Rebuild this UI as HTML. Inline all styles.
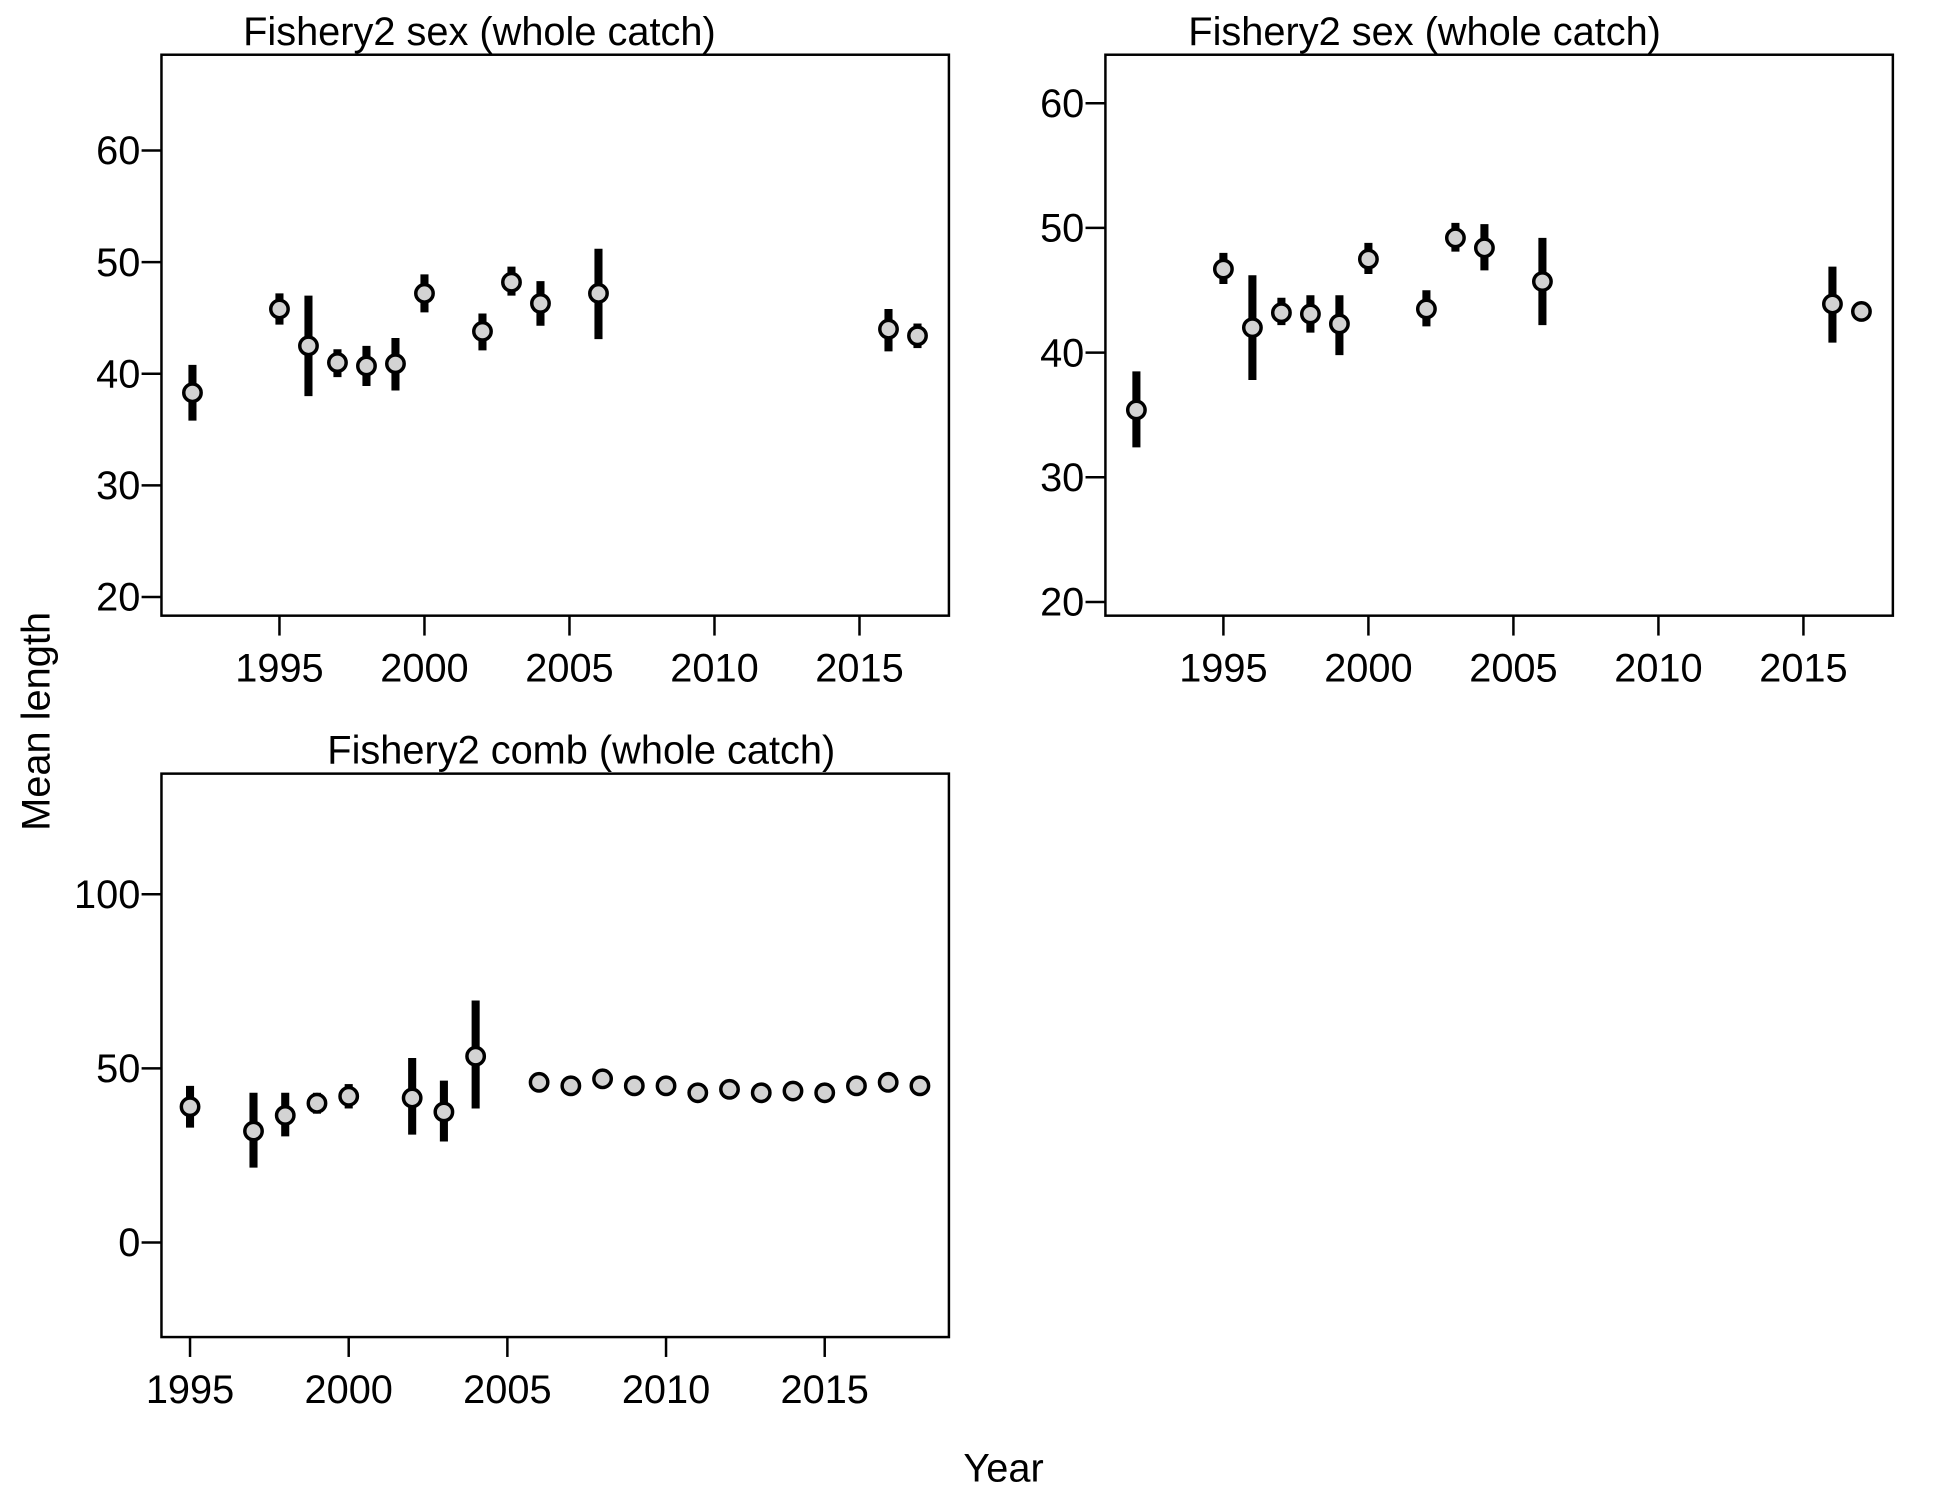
<!DOCTYPE html>
<html><head><meta charset="utf-8"><style>html,body{margin:0;padding:0;background:#fff}svg{display:block}text{font-family:"Liberation Sans",Arial,sans-serif;fill:#000}</style></head>
<body>
<svg id="fig" width="1950" height="1500" viewBox="0 0 1570 1206" preserveAspectRatio="none" xmlns="http://www.w3.org/2000/svg">
<text x="40" y="580" font-size="32" text-anchor="middle" transform="rotate(-90 40 580)">Mean length</text>
<text x="808" y="1191" font-size="32" text-anchor="middle">Year</text>
</svg>
<script>
// Panel 1
const p1Years=[1992,1995,1996,1997,1998,1999,2000,2002,2003,2004,2006,2016,2017];
const p1Mean=[38.3,45.8,42.5,41,40.7,40.9,47.2,43.8,48.2,46.3,47.2,44,43.4];
const p1Lo=[35.8,44.4,38,39.7,38.9,38.5,45.5,42.1,47,44.3,43.1,42,42.3];
const p1Hi=[40.8,47.2,47,42.2,42.5,43.2,48.9,45.4,49.6,48.3,51.2,45.8,44.5];
const p1YTicks=[20,30,40,50,60];
const p1XTicks=[1995,2000,2005,2010,2015];
// Panel 2
const p2Years=[1992,1995,1996,1997,1998,1999,2000,2002,2003,2004,2006,2016,2017];
const p2Mean=[35.4,46.7,42,43.2,43.1,42.3,47.5,43.5,49.2,48.4,45.7,43.9,43.3];
const p2Lo=[32.4,45.5,37.8,42.2,41.6,39.8,46.3,42.1,48.1,46.6,42.2,40.8,42.6];
const p2Hi=[38.5,48,46.2,44.4,44.6,44.6,48.8,45,50.4,50.3,49.2,46.9,44];
const p2YTicks=[20,30,40,50,60];
const p2XTicks=[1995,2000,2005,2010,2015];
// Panel 3
const p3Years=[1995,1997,1998,1999,2000,2002,2003,2004,2006,2007,2008,2009,2010,2011,2012,2013,2014,2015,2016,2017,2018];
const p3Mean=[39,32,36.5,40,42,41.5,37.5,53.5,46,45,47,45,45,43,44,43,43.5,43,45,46,45];
const p3Lo=[33,21.5,30.5,37,38.5,31,29,38.5,45,44,46,44,44,42,43,42,42.5,42,44,45,44];
const p3Hi=[45,43,43,43,45.5,53,46.5,69.5,47,46,48,46,46,44,45,44,44.5,44,46,47,46];
const p3YTicks=[0,50,100];
const p3XTicks=[1995,2000,2005,2010,2015];

const NS="http://www.w3.org/2000/svg";
const svg=document.getElementById('fig');
function mk(tag,attrs){const e=document.createElementNS(NS,tag);for(const k in attrs)e.setAttribute(k,attrs[k]);svg.appendChild(e);return e;}

function panel(id,box,xr,yr,years,mean,lo,hi,yt,xt,title,titleX){
  const [L,T,R,B]=box;
  const sx=v=>L+(v-xr[0])/(xr[1]-xr[0])*(R-L);
  const sy=v=>B-(v-yr[0])/(yr[1]-yr[0])*(B-T);
  const t=mk('text',{x:titleX,y:T-8,'font-size':32,'text-anchor':'middle'});t.textContent=title;
  
  
  const r=mk('rect',{x:L,y:T,width:R-L,height:B-T,fill:'none',stroke:'#000','stroke-width':2});
  
  
  yt.forEach(v=>{
    const l=mk('line',{x1:L-16,x2:L,y1:sy(v),y2:sy(v),stroke:'#000','stroke-width':2});
    
    
    const tx=mk('text',{x:L-17,y:sy(v)+11,'font-size':32,'text-anchor':'end'});tx.textContent=v;
    
    
  });
  xt.forEach(v=>{
    const l=mk('line',{x1:sx(v),x2:sx(v),y1:B,y2:B+16,stroke:'#000','stroke-width':2});
    
    
    const tx=mk('text',{x:sx(v),y:B+53,'font-size':32,'text-anchor':'middle'});tx.textContent=v;
    
    
  });
  years.forEach((y,i)=>{
    const b=mk('line',{x1:sx(y),x2:sx(y),y1:sy(lo[i]),y2:sy(hi[i]),stroke:'#000','stroke-width':6.5});
    
    
    const c=mk('circle',{cx:sx(y),cy:sy(mean[i]),r:7,fill:'#d3d3d3',stroke:'#000','stroke-width':2.8});
    
    
  });
}
panel('panel1',[130,44,764,495],[1995-95/23.35,1995+539/23.35],[20-15/8.975,60+77/8.975],p1Years,p1Mean,p1Lo,p1Hi,p1YTicks,p1XTicks,'Fishery2 sex (whole catch)',386);
panel('panel2',[890,44,1524,495],[1995-95/23.35,1995+539/23.35],[20-11/10.025,60+39/10.025],p2Years,p2Mean,p2Lo,p2Hi,p2YTicks,p2XTicks,'Fishery2 sex (whole catch)',1147);
panel('panel3',[130,622,764,1075],[1995-23/25.55,1995+611/25.55],[0-76/2.8,100+97/2.8],p3Years,p3Mean,p3Lo,p3Hi,p3YTicks,p3XTicks,'Fishery2 comb (whole catch)',468);
</script>
</body></html>
